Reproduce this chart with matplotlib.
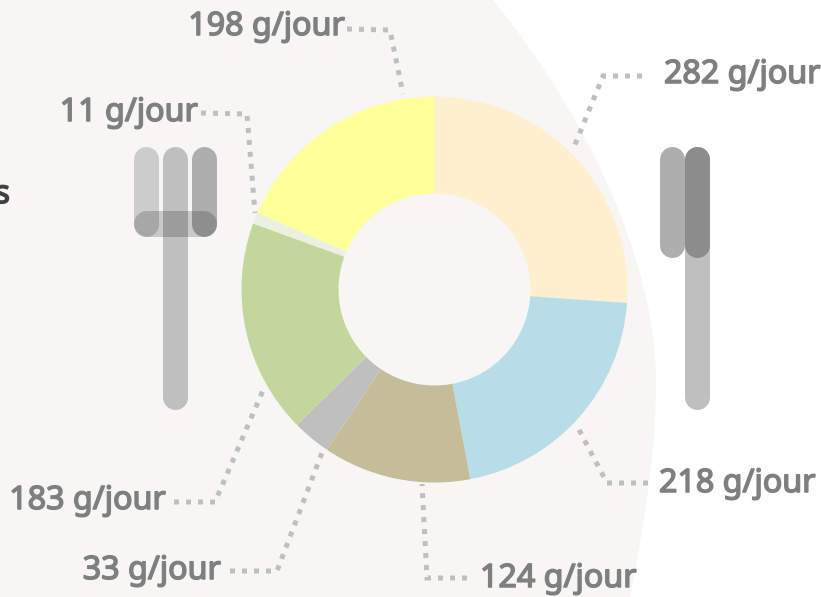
import matplotlib
matplotlib.use("Agg")
import matplotlib.pyplot as plt
import matplotlib.patheffects as pe
from matplotlib.patches import PathPatch
from matplotlib.path import Path

amounts = [282, 218, 124, 33, 183, 11, 198]
slice_degrees = [94.0, 75.3, 44.6, 11.5, 64.6, 3.4, 66.6]
colors = ["#FEEFCF", "#B7DDE8", "#C4BD97", "#BFBFBF", "#C3D69B", "#EBF1DE", "#FFFF99"]
labels = [f"{v} g/jour" for v in amounts]

# label anchor (x, baseline y, ha) and leader route in pixel coordinates
label_pos = [(664, 83, "left"), (659, 492, "left"), (480, 587, "left"), (221, 579, "right"),
             (166, 509, "right"), (198, 121, "right"), (345, 35, "right")]
leaders = [
    [(642, 76), (603, 76), (574, 147)],
    [(648, 483), (607, 483), (576, 424)],
    [(467, 578), (427, 578), (422, 484)],
    [(230, 571), (277, 571), (323, 450)],
    [(174, 502), (215, 502), (264, 388)],
    [(201, 113), (247, 114), (255, 213)],
    [(347, 29), (390, 30), (403, 94)],
]

BG = "#F7F6F5"
PX = 0.72  # points per pixel at dpi 100
fig = plt.figure(figsize=(8.21, 5.97), dpi=100, facecolor="white")
ax = fig.add_axes([0, 0, 1, 1])

verts = [(0, 0), (493, 0), (575, 100), (656, 250), (656, 383), (656, 450), (645, 520), (630, 597), (0, 597), (0, 0)]
codes = [Path.MOVETO, Path.LINETO, Path.CURVE4, Path.CURVE4, Path.CURVE4, Path.CURVE4, Path.CURVE4, Path.CURVE4,
         Path.LINETO, Path.CLOSEPOLY]
ax.add_patch(PathPatch(Path(verts, codes), facecolor=BG, edgecolor="none", zorder=0))


def pill(x0, y0, x1, y1, color, alpha=1.0, z=1):
    w = min(x1 - x0, y1 - y0)
    r = w / 2
    if x1 - x0 < y1 - y0:
        xs, ys = [(x0 + x1) / 2] * 2, [y0 + r, y1 - r]
    else:
        xs, ys = [x0 + r, x1 - r], [(y0 + y1) / 2] * 2
    ax.plot(xs, ys, color=color, alpha=alpha, lw=w * PX, solid_capstyle="round", zorder=z)


# fork
pill(162.5, 146.5, 187.5, 409.5, "#BFBFBF", 1.0, 1)
pill(133.5, 146.5, 158.5, 236.5, "#CCCCCC", 1.0, 1)
pill(191.5, 146.5, 216.5, 236.5, "#AEAEAE", 1.0, 1)
pill(133.5, 210.5, 216.5, 236.5, "#000000", 0.18, 2)
# knife
pill(684.5, 146.5, 709.5, 409.5, "#BFBFBF", 1.0, 1)
pill(659.5, 146.5, 684.5, 257.5, "#AEAEAE", 1.0, 2)
pill(684.5, 146.5, 709.5, 257.5, "#8C8C8C", 1.0, 2)

# donut
ax.pie(slice_degrees, colors=colors, center=(434.5, 289.5), radius=193, startangle=-90, counterclock=True,
       normalize=True, wedgeprops=dict(width=97, edgecolor="none", zorder=3), frame=True)
ax.set_xlim(0, 821)
ax.set_ylim(597, 0)
ax.set_aspect("auto")
ax.axis("off")

for pts in leaders:
    xs, ys = zip(*pts)
    ax.plot(xs, ys, color="#BFBFBF", lw=5 * PX, linestyle=(0, (1.0, 1.4)), dash_capstyle="butt",
            dash_joinstyle="miter", zorder=4)

stroke = [pe.withStroke(linewidth=1.1, foreground="#7F7F7F")]
for lab, (x, y, ha) in zip(labels, label_pos):
    ax.text(x, y, lab, ha=ha, va="baseline", fontsize=23.2, family="Noto Sans",
            color="#7F7F7F", zorder=5, path_effects=stroke)

ax.text(10, 203, "s", ha="right", va="baseline", fontsize=23.2, family="Noto Sans",
        color="#404040", zorder=5, path_effects=[pe.withStroke(linewidth=1.1, foreground="#404040")])

fig.savefig("out.png", dpi=100, facecolor="white")
